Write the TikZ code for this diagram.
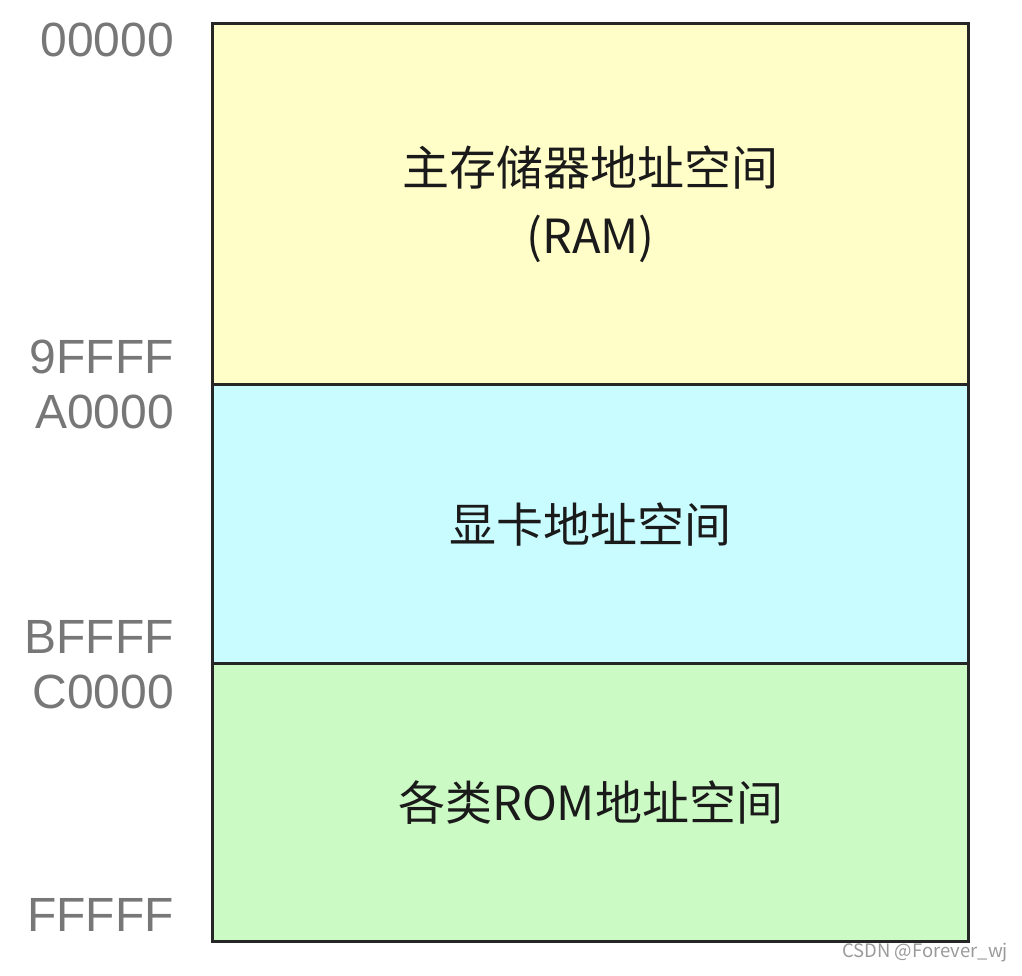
\documentclass[tikz,border=0pt]{standalone}
\usepackage{fontspec}
\setmainfont{Liberation Sans}
\newfontfamily\cjk{Noto Sans CJK SC}
\definecolor{ramfill}{HTML}{FFFDC8}
\definecolor{vgafill}{HTML}{C9FCFF}
\definecolor{romfill}{HTML}{CCFAC4}
\definecolor{edge}{HTML}{262626}
\definecolor{addr}{HTML}{777777}
\definecolor{mark}{HTML}{9A9A9A}
\definecolor{ink}{HTML}{1A1A1A}
\begin{document}
\begin{tikzpicture}[x=1pt,y=-1pt,
  region/.style={draw=edge,line width=3.2pt,anchor=north west,inner sep=0pt,
    minimum width=756pt,text=ink,align=center,
    font=\cjk\fontsize{47}{68}\selectfont},
  addrlabel/.style={anchor=east,inner sep=0pt,text=addr,
    font=\fontsize{48}{48}\selectfont}]
\useasboundingbox (0,0) rectangle (1022,976);
\node[region,fill=ramfill,minimum height=361pt] (ram) at (211,22) {主存储器地址空间\\(RAM)};
\node[region,fill=vgafill,minimum height=279pt] (vga) at (211,383) {显卡地址空间};
\node[region,fill=romfill,minimum height=278pt] (rom) at (211,662) {各类ROM地址空间};
\node[addrlabel] (a0) at (174,40) {00000};
\node[addrlabel] (a1) at (174,357) {9FFFF};
\node[addrlabel] (a2) at (174,412) {A0000};
\node[addrlabel] (a3) at (174,637) {BFFFF};
\node[addrlabel] (a4) at (174,692) {C0000};
\node[addrlabel] (a5) at (174,915) {FFFFF};
\node[anchor=east,inner sep=0pt,text=mark,font=\cjk\fontsize{18.5}{18.5}\selectfont] (wm) at (1008,953) {CSDN @Forever\_wj};
\end{tikzpicture}
\end{document}
